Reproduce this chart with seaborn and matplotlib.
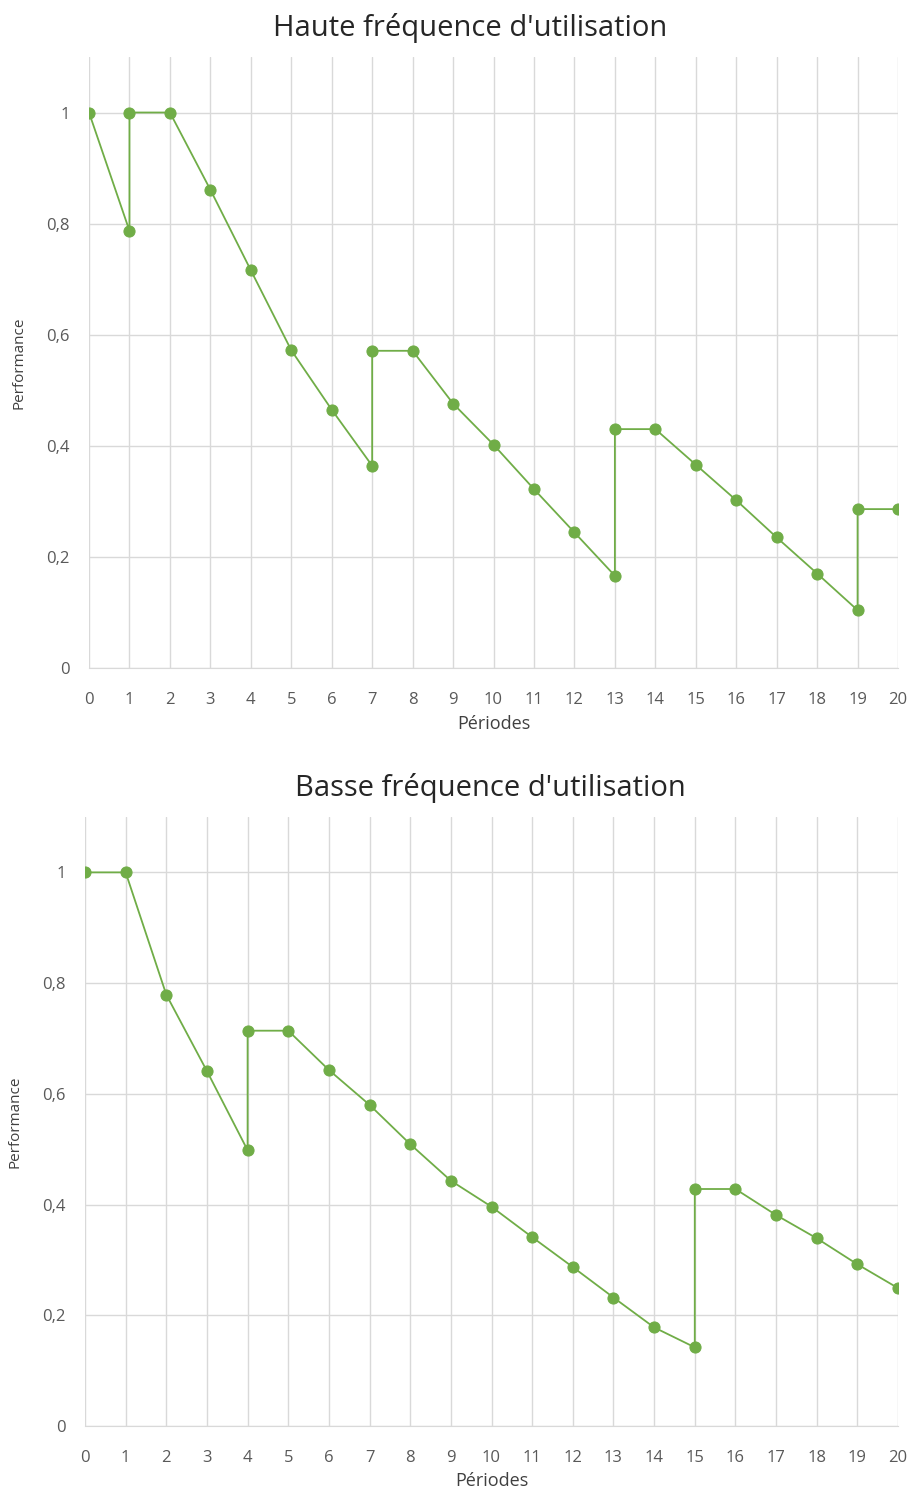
import matplotlib
matplotlib.use("Agg")
import matplotlib.pyplot as plt
import pandas as pd
import seaborn as sns
from matplotlib.ticker import FuncFormatter

# données
periodes_haute = [0, 1, 1, 2, 3, 4, 5, 6, 7, 7, 8, 9, 10, 11, 12, 13, 13, 14, 15, 16, 17, 18, 19, 19, 20]
perf_haute = [1.0, 0.787, 1.0, 1.0, 0.861, 0.716, 0.572, 0.465, 0.364, 0.571, 0.571, 0.476, 0.402,
              0.322, 0.244, 0.166, 0.430, 0.430, 0.366, 0.302, 0.235, 0.170, 0.104, 0.286, 0.286]

periodes_basse = [0, 1, 2, 3, 4, 4, 5, 6, 7, 8, 9, 10, 11, 12, 13, 14, 15, 15, 16, 17, 18, 19, 20]
perf_basse = [1.0, 1.0, 0.779, 0.641, 0.498, 0.714, 0.714, 0.643, 0.580, 0.509, 0.443, 0.396,
              0.341, 0.287, 0.232, 0.178, 0.142, 0.428, 0.428, 0.381, 0.339, 0.292, 0.249]

titres = ["Haute fréquence d'utilisation", "Basse fréquence d'utilisation"]
xticks = list(range(0, 21))
yticks = [0, 0.2, 0.4, 0.6, 0.8, 1.0]

sns.set_style("white")
plt.rcParams['font.family'] = ['Open Sans', 'DejaVu Sans']

vert = "#70AD47"
gris = "#D9D9D9"
texte = "#595959"

fig = plt.figure(figsize=(9.13, 14.95), dpi=100)
ax1 = fig.add_axes([0.0975, 0.5532, 0.8861, 0.4087])
ax2 = fig.add_axes([0.0931, 0.0462, 0.8905, 0.4073])

jeux = [(ax1, periodes_haute, perf_haute, titres[0], 0.471),
        (ax2, periodes_basse, perf_basse, titres[1], 0.498)]

virgule = FuncFormatter(lambda v, p: ("%g" % v).replace(".", ","))

for ax, xs, ys, titre, tx in jeux:
    df = pd.DataFrame({'Périodes': xs, 'Performance': ys})
    sns.lineplot(ax=ax, data=df, x='Périodes', y='Performance', sort=False, estimator=None,
                 color=vert, linewidth=1.3, marker='o', markersize=8,
                 markerfacecolor=vert, markeredgecolor=vert)
    ax.set_xlim(0, 20)
    ax.set_ylim(0, 1.1)
    ax.set_xticks(xticks)
    ax.set_yticks(yticks)
    ax.yaxis.set_major_formatter(virgule)
    ax.grid(True, color=gris, linewidth=1)
    ax.set_axisbelow(True)
    for s in ['top', 'right', 'left']:
        ax.spines[s].set_visible(False)
    ax.spines['bottom'].set_color(gris)
    ax.tick_params(axis='x', length=0, pad=17, labelsize=12, labelcolor=texte)
    ax.tick_params(axis='y', length=0, pad=14, labelsize=12, labelcolor=texte)
    ax.set_xlabel('Périodes', fontsize=13, color='#404040', labelpad=5)
    ax.set_ylabel('Performance', fontsize=11, color='#404040', labelpad=14)
    ax.set_title(titre, fontsize=21, color='#262626', pad=15, x=tx)

fig.savefig("out.png", dpi=100)
